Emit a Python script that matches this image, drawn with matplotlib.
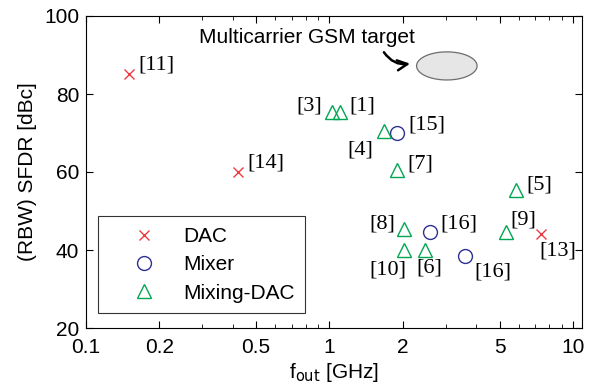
import matplotlib
matplotlib.use("Agg")
import matplotlib.pyplot as plt
import numpy as np

# data (f_out in GHz, SFDR in dBc)
dac_f = [0.15, 0.42, 7.4]
dac_sfdr = [85, 60, 44]
dac_refs = ["[11]", "[14]", "[13]"]

mixer_f = [1.9, 2.6, 3.6]
mixer_sfdr = [70, 44.5, 38.5]
mixer_refs = ["[15]", "[16]", "[16]"]

mdac_f = [1.02, 1.11, 1.67, 1.9, 5.85, 2.03, 2.02, 2.48, 5.3]
mdac_sfdr = [75.5, 75.5, 70.5, 60.5, 55.5, 45.5, 40, 40, 44.5]
mdac_refs = ["[3]", "[1]", "[4]", "[7]", "[5]", "[8]", "[10]", "[6]", "[9]"]

# GSM target region
gsm_f = (2.28, 4.04)
gsm_sfdr = (83.6, 90.8)

# label offsets in pixels (dx, dy, ha) relative to each marker
dac_off = [(10, 9, "left"), (10, 9, "left"), (-2, -17, "left")]
mixer_off = [(11, 8, "left"), (10, 8, "left"), (10, -16, "left")]
mdac_off = [(-9, 6, "right"), (9, 6, "left"), (-10, -19, "right"), (10, 6, "left"),
            (10, 5, "left"), (-9, 5, "right"), (-16, -19.5, "center"),
            (4, -17.5, "center"), (5, 12, "left")]

red = "#ee3a43"
blue = "#2e3192"
green = "#00a651"

plt.rcParams["font.family"] = ["Liberation Sans", "DejaVu Sans"]

fig = plt.figure(figsize=(5.97, 3.88), dpi=100)
ax = fig.add_axes([86 / 597, 1 - 328 / 388, 496 / 597, 312 / 388])

ax.plot(dac_f, dac_sfdr, "x", color=red, ms=7, mew=1.0, label="DAC")
ax.plot(mixer_f, mixer_sfdr, "o", color=blue, mfc="none", ms=10, mew=1.0, label="Mixer")
ax.plot(mdac_f, mdac_sfdr, "^", color=green, mfc="none", ms=10, mew=1.0, label="Mixing-DAC")

for fs, ss, refs, offs in [(dac_f, dac_sfdr, dac_refs, dac_off),
                           (mixer_f, mixer_sfdr, mixer_refs, mixer_off),
                           (mdac_f, mdac_sfdr, mdac_refs, mdac_off)]:
    for f, s, r, (dx, dy, ha) in zip(fs, ss, refs, offs):
        ax.annotate(r, (f, s), xytext=(dx * 0.72, dy * 0.72), textcoords="offset points",
                    ha=ha, va="center", fontsize=16, family="Liberation Serif")

# ellipse drawn in log-x space
t = np.linspace(0, 2 * np.pi, 200)
lc = (np.log10(gsm_f[0]) + np.log10(gsm_f[1])) / 2
lr = (np.log10(gsm_f[1]) - np.log10(gsm_f[0])) / 2
yc = (gsm_sfdr[0] + gsm_sfdr[1]) / 2
yr = (gsm_sfdr[1] - gsm_sfdr[0]) / 2
ax.fill(10 ** (lc + lr * np.cos(t)), yc + yr * np.sin(t), facecolor="#e6e6e7",
        edgecolor="#6d6d6d", lw=0.9)

ax.text(0.29, 94.4, "Multicarrier GSM target", fontsize=15, va="center", ha="left")
ax.annotate("", xy=(2.2, 87.9), xytext=(1.65, 91.3),
            arrowprops=dict(arrowstyle="->", color="k", lw=1.8,
                            connectionstyle="arc3,rad=0.35", mutation_scale=18))

ax.set_xscale("log")
ax.set_xlim(0.1, 10.9)
ax.set_ylim(20, 100)
ax.set_xticks([0.1, 0.2, 0.5, 1, 2, 5, 10])
ax.set_xticklabels(["0.1", "0.2", "0.5", "1", "2", "5", "10"])
ax.set_yticks([20, 40, 60, 80, 100])
ax.tick_params(which="both", direction="in", top=True, right=True, labelsize=15)
ax.tick_params(axis="x", pad=7)
ax.tick_params(axis="y", pad=5)
ax.tick_params(which="major", length=5)
ax.tick_params(which="minor", length=3)
for sp in ax.spines.values():
    sp.set_linewidth(0.8)

ax.set_xlabel(r"f$_{\rm out}$ [GHz]", fontsize=15, labelpad=3)
ax.set_ylabel("(RBW) SFDR [dBc]", fontsize=15, labelpad=5)

leg = ax.legend(loc="lower left", bbox_to_anchor=(0.024, 0.048), borderaxespad=0,
                fontsize=15, fancybox=False, edgecolor="k", handletextpad=0.15,
                borderpad=0.5, labelspacing=0.45, handlelength=3.45)
leg.get_frame().set_linewidth(0.8)

fig.savefig("out.png", dpi=100)
